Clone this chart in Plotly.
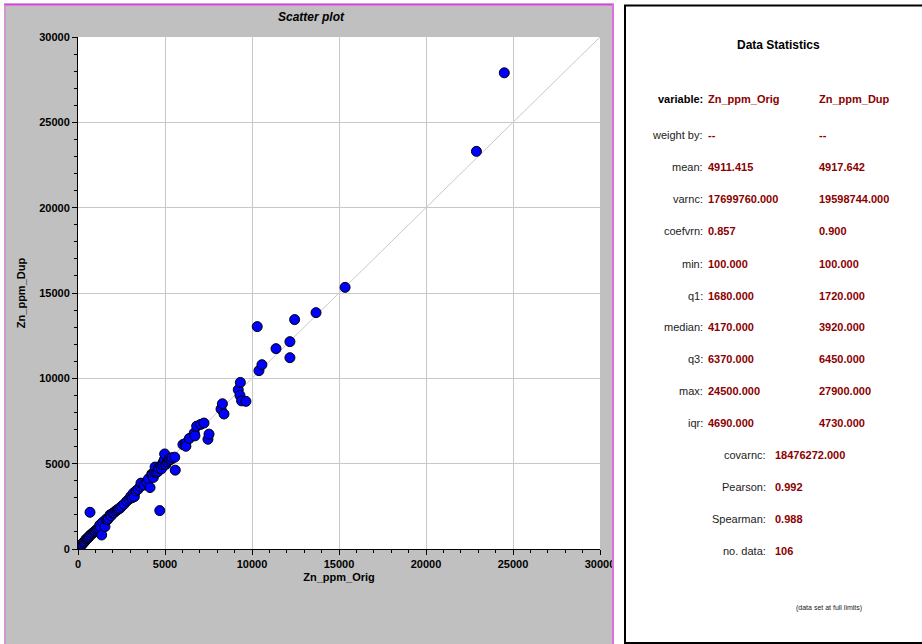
import plotly.graph_objects as go

# ---------------- data ----------------
zn_orig = [100, 150, 200, 250, 300, 350, 420, 460, 520, 560, 600, 650, 690, 730, 800, 880, 950, 1000,
           1070, 1120, 1200, 1250, 1300, 1360, 1420, 1550, 1610,
           1700, 1750, 1840, 1900, 2000, 2070, 2164, 2250, 2330, 2414, 2500, 2640, 2800, 2930, 3030,
           3100, 3180, 3240, 3330, 3450, 3580, 3620, 3800, 3960, 4050, 4140,
           4240, 4270, 4330, 4400, 4430, 4520, 4600, 4640, 4700, 4750, 4800, 4850, 4900, 4960, 4980,
           5050, 5130, 5200, 5250, 5345, 5400, 5560, 5590, 6030, 6190, 6200,
           6400, 6680, 6720, 6820, 7050, 7240, 7470, 7530, 8220, 8300, 8390, 9210, 9310, 9330, 9400,
           9650, 10300, 10400, 10570, 11380, 12180, 12180, 12450, 13680, 15350, 22900, 24500]
zn_dup = [100, 195, 230, 280, 370, 400, 480, 570, 600, 640, 680, 760, 2150, 820, 900, 960, 1000, 1060,
          1115, 1180, 1210, 1400, 1270, 820, 1570, 1310, 1740,
          1720, 1800, 2000, 1950, 2100, 2130, 2230, 2280, 2350, 2390, 2500, 2620, 2800, 2920, 3080,
          3000, 3270, 3070, 3400, 3500, 3660, 3860, 3750, 3900, 4110, 3600,
          4390, 4350, 4190, 4500, 4800, 4480, 4550, 4740, 2250, 4870, 4700, 4950, 5080, 5220, 5570,
          4950, 5100, 5200, 5300, 5250, 5350, 5380, 4620, 6120, 6200, 6020,
          6480, 6790, 6630, 7200, 7300, 7380, 6430, 6730, 8200, 8510, 7910, 9330, 9000, 9760, 8680,
          8650, 13030, 10450, 10800, 11740, 12150, 11210, 13440, 13850, 15330, 23300, 27900]

axis_limits = [0, 30000]
tick_step = 5000
minor_step = 1000

stat_labels = ["variable:", "weight by:", "mean:", "varnc:", "coefvrn:", "min:", "q1:", "median:",
               "q3:", "max:", "iqr:"]
orig_stats = ["Zn_ppm_Orig", "--", "4911.415", "17699760.000", "0.857", "100.000", "1680.000",
              "4170.000", "6370.000", "24500.000", "4690.000"]
dup_stats = ["Zn_ppm_Dup", "--", "4917.642", "19598744.000", "0.900", "100.000", "1720.000",
             "3920.000", "6450.000", "27900.000", "4730.000"]
pair_labels = ["covarnc:", "Pearson:", "Spearman:", "no. data:"]
pair_values = ["18476272.000", "0.992", "0.988", "106"]

# ---------------- layout helpers ----------------
W, H = 922, 644
FONT = "Liberation Sans, Arial, sans-serif"
DARKRED = "#8b0000"


def px(x):
    return x / W


def py(y):
    return 1 - y / H


fig = go.Figure()

# 1:1 line
fig.add_trace(go.Scatter(x=axis_limits, y=axis_limits, mode="lines",
                         line=dict(color="#c8c8c8", width=1), hoverinfo="skip", showlegend=False))
# data
fig.add_trace(go.Scatter(x=zn_orig, y=zn_dup, mode="markers",
                         marker=dict(color="#0000ff", size=10, line=dict(color="black", width=1)),
                         showlegend=False))

axis_common = dict(
    range=axis_limits, dtick=tick_step, tick0=0, tickformat="d", ticks="outside", ticklen=5,
    tickwidth=1, tickcolor="black", showline=True, linecolor="black", linewidth=1,
    showgrid=True, gridcolor="#c8c8c8", gridwidth=1, zeroline=False, automargin=False,
    tickfont=dict(family=FONT, size=11, color="black", weight="bold"),
    minor=dict(dtick=minor_step, ticks="outside", ticklen=3, tickcolor="black", showgrid=False),
)

fig.update_layout(
    width=W, height=H, autosize=False,
    margin=dict(l=0, r=0, t=0, b=0, pad=0, autoexpand=False),
    showlegend=False,
    paper_bgcolor="#c0c0c0", plot_bgcolor="white",
    xaxis=dict(domain=[px(78), px(600)], anchor="y",
               title=dict(text="Zn_ppm_Orig", standoff=4,
                          font=dict(family=FONT, size=11, color="black", weight="bold")),
               **axis_common),
    yaxis=dict(domain=[py(549), py(37)], anchor="x",
               title=dict(text="Zn_ppm_Dup", standoff=11,
                          font=dict(family=FONT, size=11, color="black", weight="bold")),
               **axis_common),
    font=dict(family=FONT),
)

shapes = [
    # white surroundings of the gray left panel
    dict(type="rect", xref="paper", yref="paper", x0=px(-5), x1=px(4), y0=py(650), y1=py(-5),
         fillcolor="white", line=dict(width=0), layer="above"),
    dict(type="rect", xref="paper", yref="paper", x0=px(-5), x1=px(930), y0=py(3.5), y1=py(-5),
         fillcolor="white", line=dict(width=0), layer="above"),
    dict(type="rect", xref="paper", yref="paper", x0=px(614), x1=px(930), y0=py(650), y1=py(-5),
         fillcolor="white", line=dict(width=0), layer="above"),
    # magenta borders
    dict(type="line", xref="paper", yref="paper", x0=px(4), x1=px(614), y0=py(4.5), y1=py(4.5),
         line=dict(color="#e040e0", width=2), layer="above"),
    dict(type="line", xref="paper", yref="paper", x0=px(613), x1=px(613), y0=py(4), y1=py(650),
         line=dict(color="#e070e0", width=2), layer="above"),
    dict(type="line", xref="paper", yref="paper", x0=px(5), x1=px(5), y0=py(4), y1=py(650),
         line=dict(color="#e070e0", width=1), layer="above"),
    # right panel border
    dict(type="rect", xref="paper", yref="paper", x0=px(625), x1=px(930), y0=py(643), y1=py(5.5),
         fillcolor="white", line=dict(color="black", width=2), layer="above"),
]
fig.update_layout(shapes=shapes)

ann = []
ann.append(dict(text="Scatter plot", x=px(311), y=py(17), xref="paper", yref="paper",
                showarrow=False, xanchor="center", yanchor="middle",
                font=dict(family=FONT, size=12, color="black", weight="bold", style="italic")))
ann.append(dict(text="Data Statistics", x=px(778), y=py(45), xref="paper", yref="paper",
                showarrow=False, xanchor="center", yanchor="middle",
                font=dict(family=FONT, size=12, color="black", weight="bold")))

row_y = [99, 135, 167, 199, 231, 264, 296, 327, 359, 391, 423]
for i, lab in enumerate(stat_labels):
    y = row_y[i]
    ann.append(dict(text=lab, x=px(705), y=py(y), xref="paper", yref="paper", showarrow=False,
                    xanchor="right", yanchor="middle",
                    font=dict(family=FONT, size=11, color="black" if i == 0 else "#222222",
                              weight="bold" if i == 0 else "normal")))
    ann.append(dict(text=orig_stats[i], x=px(706), y=py(y), xref="paper", yref="paper",
                    showarrow=False, xanchor="left", yanchor="middle",
                    font=dict(family=FONT, size=11, color=DARKRED, weight="bold")))
    ann.append(dict(text=dup_stats[i], x=px(817), y=py(y), xref="paper", yref="paper",
                    showarrow=False, xanchor="left", yanchor="middle",
                    font=dict(family=FONT, size=11, color=DARKRED, weight="bold")))

pair_y = [455, 487, 519, 551]
for i, lab in enumerate(pair_labels):
    y = pair_y[i]
    ann.append(dict(text=lab, x=px(768), y=py(y), xref="paper", yref="paper", showarrow=False,
                    xanchor="right", yanchor="middle",
                    font=dict(family=FONT, size=11, color="#222222")))
    ann.append(dict(text=pair_values[i], x=px(773), y=py(y), xref="paper", yref="paper",
                    showarrow=False, xanchor="left", yanchor="middle",
                    font=dict(family=FONT, size=11, color=DARKRED, weight="bold")))

ann.append(dict(text="(data set at full limits)", x=px(829), y=py(608), xref="paper", yref="paper",
                showarrow=False, xanchor="center", yanchor="middle",
                font=dict(family=FONT, size=7, color="#222222")))

fig.update_layout(annotations=ann)

fig.write_html("out.html")
